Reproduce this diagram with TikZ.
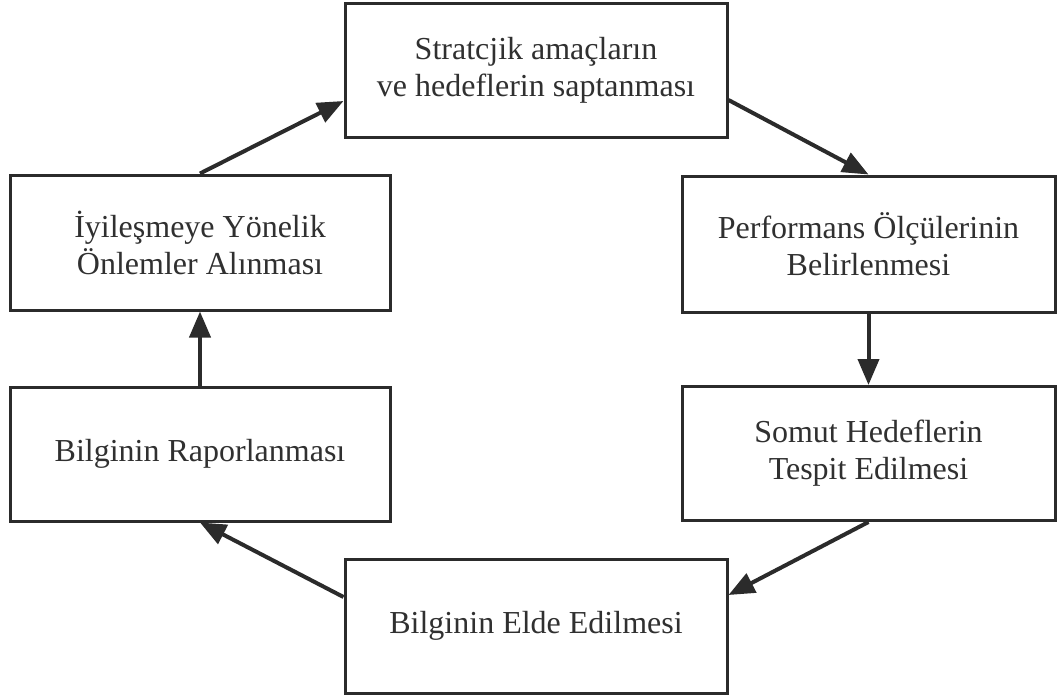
\documentclass[tikz,border=0pt]{standalone}
\usepackage{fontspec}
\setmainfont{Liberation Serif}
\usetikzlibrary{arrows.meta}
\definecolor{ink}{HTML}{2B2B2B}
\definecolor{txt}{HTML}{303030}
\tikzset{
  stage/.style={draw=ink, line width=3pt, fill=white, align=center,
    inner sep=0pt, text=txt, font=\fontsize{32}{37}\selectfont},
  flow/.style={draw=ink, line width=4pt,
    -{Triangle[length=26pt,width=21pt]}},
}
\begin{document}
\begin{tikzpicture}[x=1pt,y=-1pt]
  \useasboundingbox (0,0) rectangle (1058,699);
  % process stages
  \node[stage, minimum width=382pt, minimum height=134pt] (goals) at (536,70)
    {Stratcjik amaçların\\ve hedeflerin saptanması};
  \node[stage, minimum width=373pt, minimum height=136pt] (measures) at (868.5,244)
    {Performans Ölçülerinin\\Belirlenmesi};
  \node[stage, minimum width=373pt, minimum height=134pt] (targets) at (868.5,453.5)
    {Somut Hedeflerin\\Tespit Edilmesi};
  \node[stage, minimum width=382pt, minimum height=134pt] (collect) at (536,626)
    {Bilginin Elde Edilmesi};
  \node[stage, minimum width=380pt, minimum height=134pt] (report) at (200,454)
    {Bilginin Raporlanması};
  \node[stage, minimum width=380pt, minimum height=135pt] (improve) at (200,242.5)
    {İyileşmeye Yönelik\\Önlemler Alınması};
  % cycle connectors
  \draw[flow] ([yshift=-30pt]goals.east) -- (measures.north);
  \draw[flow] (measures.south) -- (targets.north);
  \draw[flow] (targets.south) -- ([yshift=31pt]collect.east);
  \draw[flow] ([yshift=29pt]collect.west) -- (report.south);
  \draw[flow] (report.north) -- (improve.south);
  \draw[flow] (improve.north) -- ([yshift=-31pt]goals.west);
\end{tikzpicture}
\end{document}
